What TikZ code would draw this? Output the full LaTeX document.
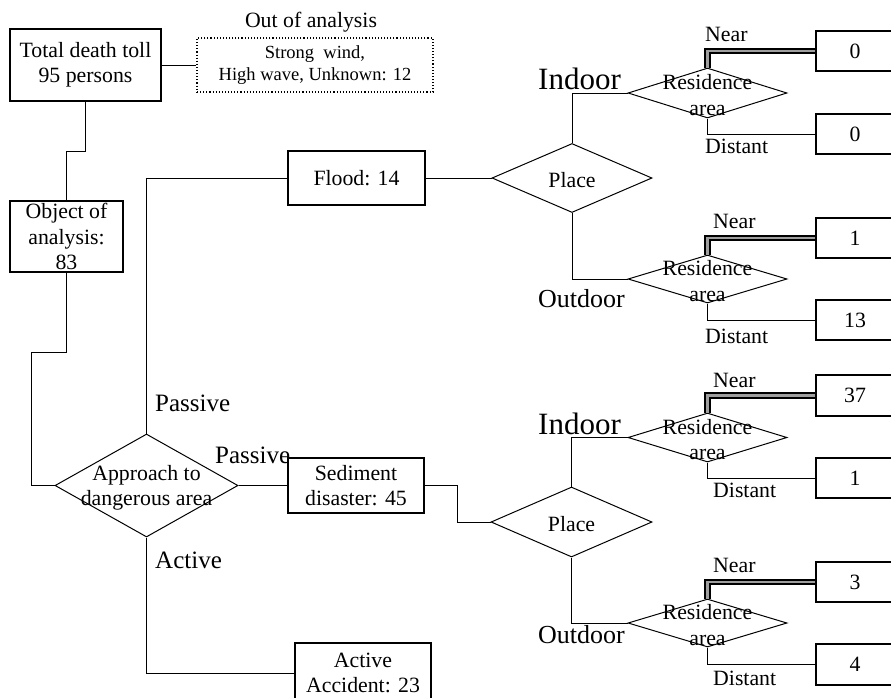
\documentclass[tikz,border=0pt]{standalone}
\usepackage{fontspec}
\setmainfont{Liberation Serif}
\usetikzlibrary{shapes.geometric}
\newcommand\fBase{\fontsize{21.8}{25.5}\selectfont}
\newcommand\fSmall{\fontsize{18.5}{22}\selectfont}
\newcommand\fLab{\fontsize{25}{30}\selectfont}
\newcommand\fIn{\fontsize{31}{36}\selectfont}
\newcommand\fOut{\fontsize{26}{30}\selectfont}
\begin{document}
\begin{tikzpicture}[x=1pt,y=-1pt,
  box/.style={draw, line width=1.1pt, inner sep=0pt, align=center, font=\fBase},
  dia/.style={draw, diamond, line width=1pt, inner sep=0pt},
  txt/.style={inner sep=0pt, align=center, font=\fBase},
  lab/.style={inner sep=0pt, anchor=base west},
  conn/.style={line width=0.9pt},
  nearline/.style={line width=1.8pt, double=gray!75, double distance=2.6pt, line join=miter},
  numbox/.style={box, minimum width=78pt, minimum height=40pt}]
\path[use as bounding box] (0,0) rectangle (891,697);
\clip (0,0) rectangle (891,697);

% left part
\node[box, minimum width=151pt, minimum height=72pt] (total) at (85.5,65) {Total death toll\\95 persons};
\node[txt] (outlab) at (311,22) {Out of analysis};
\node[box, dotted, font=\fSmall, minimum width=236pt, minimum height=54pt] (out) at (315,65) {Strong\ \ wind,\\High wave, Unknown: 12};
\node[box, minimum width=113pt, minimum height=71pt] (obj) at (66.5,236.5) {Object of\\analysis:\\83};
\node[dia, minimum width=183pt, minimum height=103pt] (appr) at (146.5,485.5) {};
\node[txt] (apprt) at (146.5,488) {Approach to\\dangerous area};
\node[box, minimum width=137pt, minimum height=54pt] (flood) at (356.5,178) {Flood: 14};
\node[box, minimum width=136pt, minimum height=55pt] (sed) at (356,485.5) {Sediment\\disaster: 45};
\node[box, minimum width=136pt, minimum height=60pt] (act) at (363,673) {Active\\Accident: 23};

\node[lab, font=\fLab] (pas1) at (155,411) {Passive};
\node[lab, font=\fLab] (pas2) at (215,463) {Passive};
\node[lab, font=\fLab] (actl) at (155,568) {Active};

% place diamonds
\node[dia, minimum width=160pt, minimum height=69pt] (pl1) at (572,178) {};
\node[txt] (pl1t) at (572,180) {Place};
\node[dia, minimum width=161pt, minimum height=70pt] (pl2) at (571.5,522) {};
\node[txt] (pl2t) at (571.5,524) {Place};

\node[lab, font=\fIn] (in1) at (538,89) {Indoor};
\node[lab, font=\fOut] (od1) at (538,307) {Outdoor};
\node[lab, font=\fIn] (in2) at (538,434) {Indoor};
\node[lab, font=\fOut] (od2) at (538,643) {Outdoor};

% residence diamonds
\node[dia, minimum width=159pt, minimum height=50pt] (r1) at (707.5,93) {};
\node[txt] (r1t) at (707.5,95) {Residence\\area};
\node[dia, minimum width=159pt, minimum height=48pt] (r2) at (707.5,279) {};
\node[txt] (r2t) at (707.5,281) {Residence\\area};
\node[dia, minimum width=159pt, minimum height=49pt] (r3) at (707.5,437.5) {};
\node[txt] (r3t) at (707.5,439.5) {Residence\\area};
\node[dia, minimum width=159pt, minimum height=48pt] (r4) at (707.5,623) {};
\node[txt] (r4t) at (707.5,625) {Residence\\area};

% result boxes
\node[numbox] (b1) at (855,51) {0};
\node[numbox] (b2) at (855,134) {0};
\node[numbox] (b3) at (855,238) {1};
\node[numbox] (b4) at (855,320) {13};
\node[numbox, minimum height=41pt] (b5) at (855,395.5) {37};
\node[numbox] (b6) at (855,478) {1};
\node[numbox] (b7) at (855,582) {3};
\node[numbox, minimum height=41pt] (b8) at (855,664.5) {4};

% near / distant labels
\node[lab, font=\fBase] (n1) at (705,41) {Near};
\node[lab, font=\fBase] (d1) at (705,153) {Distant};
\node[lab, font=\fBase] (n2) at (713,228) {Near};
\node[lab, font=\fBase] (d2) at (705,343) {Distant};
\node[lab, font=\fBase] (n3) at (713,387) {Near};
\node[lab, font=\fBase] (d3) at (713,497) {Distant};
\node[lab, font=\fBase] (n4) at (713,572) {Near};
\node[lab, font=\fBase] (d4) at (713,685) {Distant};

% jog coordinates
\coordinate (j1) at (66.5,151);
\coordinate (j2) at (31,352);
\coordinate (j3) at (457,485.5);

% connectors
\draw[conn] (total.east) -- (out.west);
\draw[conn] (total.south) |- (j1) -- (obj.north);
\draw[conn] (obj.south) |- (j2) |- (appr.west);
\draw[conn] (appr.north) |- (flood.west);
\draw[conn] (appr.east) -- (sed.west);
\draw[conn] (appr.south) |- (act.west);
\draw[conn] (flood.east) -- (pl1.west);
\draw[conn] (sed.east) -- (j3) |- (pl2.west);
\draw[conn] (pl1.north) |- (r1.west);
\draw[conn] (pl1.south) |- (r2.west);
\draw[conn] (pl2.north) |- (r3.west);
\draw[conn] (pl2.south) |- (r4.west);
\draw[conn] (r1.south) |- (b2.west);
\draw[conn] (r2.south) |- (b4.west);
\draw[conn] (r3.south) |- (b6.west);
\draw[conn] (r4.south) |- (b8.west);
\draw[nearline] (r1.north) |- (b1.west);
\draw[nearline] (r2.north) |- (b3.west);
\draw[nearline] (r3.north) |- (b5.west);
\draw[nearline] (r4.north) |- (b7.west);
\end{tikzpicture}
\end{document}
